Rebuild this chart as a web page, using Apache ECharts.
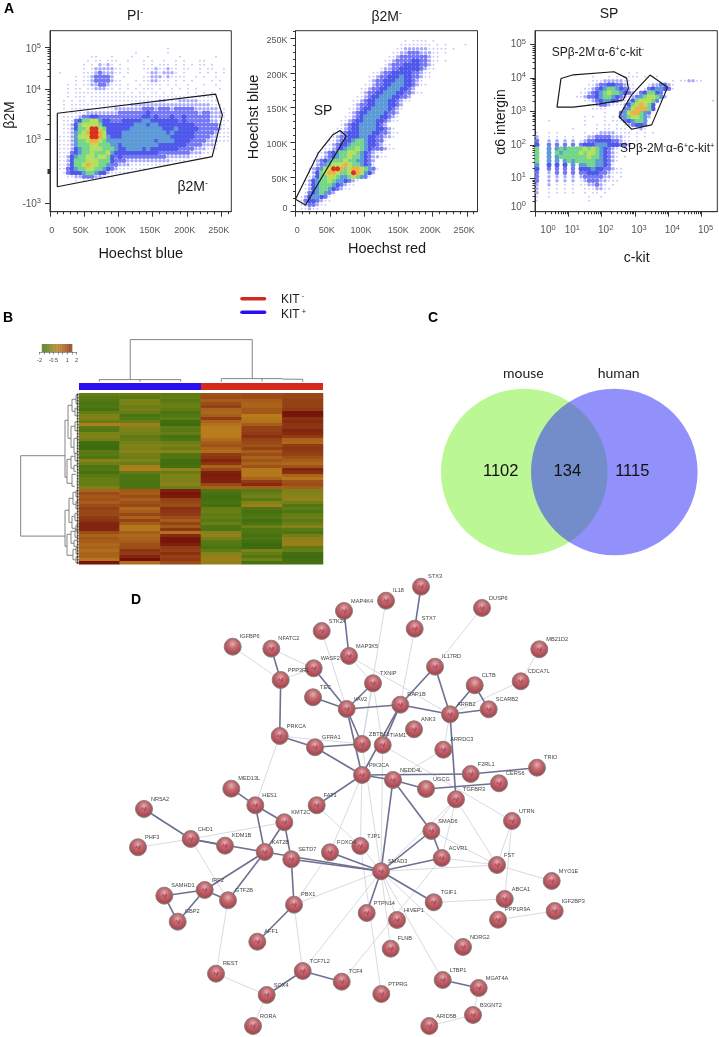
<!DOCTYPE html>
<html>
<head>
<meta charset="utf-8">
<title>Figure</title>
<script src="https://cdn.jsdelivr.net/npm/echarts@6/dist/echarts.min.js"></script>
<style>
html,body{margin:0;padding:0;background:#fff}
#chart{width:719px;height:1037px}
</style>
</head>
<body>
<div id="chart"></div>
<script>
// density levels, one string per 4px row, top to bottom ('.' = no events)
var gatePIRows = [
"","","","",
".............................1",
".....................1.......1",
"..........11...1....1...1.......1........1",
".........1.11.111..1...1.1..1..1.1...11",
"........1.1.2121.1.....1.1.111.1.1.1.11.1",
"........1.12222211.1...111211211.11..1.11..1",
"..1.....1112322211.1....12212221.1...1.1.1.1",
"......1.11233332..1....11222121111..1.1..1",
"......1.1123333211...1.1122111.1.1.1....1.1",
"....1.1.1122332111.1..1.1111.1.1..1...1..1",
"....1.11.1122211.1.1.1.111.1..1.1.1.1.....1",
"....1.1111111111111.1.11.11.1.1...1.1.1.1",
"....1.111.1111111111111111111111111111111",
"...1.1.11.11111111111111111221112222211111",
"...1.11111111111111122222222222222222222111",
"...1.111111111112222222333233323333322222211",
"...1.111122222222333333343333333333332332221",
"...11112334433333333333443433343343333332221",
"...111346677544333444445544444443433333322111",
"...11246777764444444455545544444444433333321",
"...112466799764444445555555544454444433333211",
"...112567899874444555555555554544444333332111",
"..1112577799875444555555555555444444333322111",
"..1112566788765555555555554555544443333222111",
"..1112566677666554555555555444444433332221",
"..1112456677766654455554544444443333222111",
"..11134566766675444444444443333333322211",
"..112456677677643433333333333222222111",
"..11246667776664333222222222221111",
"..1124667877665332221111111111",
"..1134566776654321111111",
"...13444566544211111",
"....112233322111",
"......1.1"
];
var sidePopRows = [
"","",
"...........................1.1111.1",
"..........................11111111.1.1....1",
".........................1122222211111.1",
"........................112233322211.1",
".......................1123333333211",
"......................11233334433211.1",
"......................1233344443321",
".....................12233444443211",
"...................112334444433211",
"..................1123344454433211",
"..................12334445544321",
".................1123344555443211",
"................11233445554432",
"................1233445554433211",
"...............11234455544332",
"..............112344555443211",
"..............1233445554432",
".............11234455554321",
".............1234455554332",
"............11234555544321",
"...........112344555443211",
"...........123445555432",
"..........112344555544321",
".........11234445554433211",
".........1233444554433221",
"........112344566544331",
".......11234456665443211",
".......112345667654333211",
".....11234566776543211",
".....112345667665432211",
"....1234566676655432",
"....1235677787665431",
"...123577998678876531",
"...12467887667987542",
"...1246677655676531",
"..12456676554321",
"..1245666543211",
"..124566543211",
"..13456532",
".12455431",
".13443211",
".1233211",
".11211"
];
var spRows = [
"","","","","","","","","","",
".......................1.1",
"..............1...1.1.1111.1.11",
"..............1112222211..........1.112211",
".............112334433211...1223321",
"............11234566543211.13455431.............1",
"...........1123456766543213466431",
"..........11233456654321235677652",
"............11234554321246777631............1..1",
".............11233211124678764",
"..............1111....35788864",
".................1...35788653",
"............1.1..1.1.35677652.................1",
"...1........1....1.111345665",
"............1..1.11.1.123443",
".........1.....1.11.111.1121",
"1..1.1......1.1122221111.1.1.1",
"2..1.1.1.1..122333322211.1.1",
"3..2.2.2.2.1233444433211.1",
"4..3.3.3.3.3444555444332.11",
"6..5.5656666767654321.1",
"6..5.6566667677654321",
"6..5.5666666676654321.1",
"6..5.5.56566666554321",
"5..4.4.4.5.556655431",
"4..3.3.3.3.44454433211",
"3..2.3.3.3.33444332111",
"3..2.2.2.2.233333221.1",
"3..2.2.2.2.1233322111",
"2..2.1.1.1.1122321.1",
"2..1.1.1.1..1112211",
"2..1.1.1.1..1.11.1",
"1..1.........1..1",
"1............1"
];

// gates, in axis units
var gatePI = [[10.7,54.4],[242,65],[252,53.4],[237,30.4],[10.7,13.8],[10.7,54.4]];
var gateSP = [[0,18],[14.6,9.7],[74,109],[65,117],[54,110.5],[33.5,85],[0,18]];
var gateKitNeg = [[.78,3.99],[1.15,4.10],[2.37,4.19],[2.75,4.00],[2.80,3.70],[2.65,3.35],[1.95,3.23],[1.15,3.13],[.66,3.13],[.78,3.99]];
var gateKitPos = [[2.52,2.85],[2.90,2.47],[3.50,2.60],[3.98,3.73],[3.45,4.09],[2.90,3.50],[2.52,2.85]];

// heatmap columns, row by row
var sampleNames = ['KIT+ 1','KIT+ 2','KIT+ 3','KIT- 1','KIT- 2','KIT- 3'];
var kit1 = [-1.0,-1.2,-1.3,-1.5,-1.3,-1.6,-1.0,-0.7,-0.6,-1.0,-0.1,-1.2,-1.3,-0.7,-0.6,-0.8,-1.8,-1.9,-1.9,-1.2,-1.2,-1.4,-0.5,-0.9,-1.4,-1.3,-1.6,-1.2,-1.0,-1.0,-1.0,-0.7,
 0.5,0.9,0.7,0.8,0.6,0.9,1.1,1.0,1.0,1.2,1.3,1.6,1.6,1.6,0.9,0.5,0.7,0.6,0.4,0.5,0.3,0.5,0.5,0.1,1.9];
var kit2 = [-1.0,-1.2,-0.7,-0.7,-0.9,-0.8,-1.0,-1.5,-1.3,-1.0,-0.3,-0.6,-0.7,-0.8,-1.1,-1.0,-0.8,-0.6,-0.7,-0.5,-0.8,-0.9,-0.7,-1.0,-0.2,-0.1,-1.1,-1.4,-1.4,-1.5,-1.5,-1.5,
 0.7,0.6,0.9,0.6,0.8,1.0,0.4,0.6,1.0,0.5,1.1,0.6,0.1,0.1,0.6,0.4,0.5,0.6,0.8,0.9,1.3,1.2,1.6,2.0,0.3];
var kit3 = [-1.1,-1.0,-1.2,-1.0,-0.9,-1.1,-1.5,-1.3,-1.1,-1.8,-1.9,-1.1,-1.2,-1.0,-1.6,-1.4,-0.9,-0.7,-1.0,-0.5,-1.3,-1.3,-1.7,-1.8,-1.6,-0.4,-1.0,-0.6,-0.7,-0.7,-0.5,-0.9,
 1.7,1.9,1.8,1.1,1.0,0.9,1.4,1.3,1.2,0.9,0.6,1.1,0.7,1.3,0.2,1.5,1.9,1.9,1.7,1.2,1.1,1.4,1.1,1.2,0.9];
var kit4 = [0.8,0.9,0.6,0.9,1.1,0.5,0.4,0.6,1.2,0.5,0.2,0.0,0.0,0.0,0.0,0.3,0.6,0.8,0.5,0.3,1.2,1.3,1.6,1.3,0.5,1.0,1.7,1.8,1.7,1.7,1.0,0.5,
 -1.4,-1.6,-1.8,-1.7,-1.5,-1.7,-1.0,-0.9,-1.1,-1.0,-1.2,-0.9,-1.4,-1.5,-0.5,-0.4,-0.8,-1.2,-1.3,-1.5,-1.1,-0.6,-0.4,-0.3,-0.4];
var kit5 = [0.9,0.9,0.6,0.5,0.5,0.7,0.7,0.0,0.1,0.2,0.6,1.1,1.1,1.2,1.4,1.1,1.0,0.8,1.1,0.6,0.9,0.5,0.8,0.5,0.8,0.1,0.1,0.1,0.5,1.2,1.5,0.6,
 -1.2,-1.0,-0.8,-1.2,-0.6,-0.3,-1.4,-1.6,-1.5,-1.3,-1.7,-1.5,-0.9,-1.3,-1.4,-1.6,-1.4,-1.7,-2.0,-1.9,-0.7,-1.0,-1.3,-0.8,-1.6];
var kit6 = [1.0,1.0,1.1,1.1,1.1,1.2,1.9,1.9,1.4,1.5,1.3,1.3,1.6,1.5,1.2,0.5,0.4,1.2,1.3,1.2,1.1,0.8,0.6,0.4,0.8,1.6,1.4,0.5,0.1,0.8,0.9,0.6,
 -0.7,-0.6,-0.5,-0.4,-0.8,-1.3,-1.1,-1.4,-1.0,-0.9,-1.2,-0.9,-0.6,-1.2,-1.4,-0.8,-0.5,-0.4,-0.3,-1.1,-1.0,-1.8,-1.9,-1.7,-1.6];
var keyValues = [-1.6,-1.35,-1.1,-.85,-.6,-.35,-.1,.15,.4,.65,.9,1.15,1.4];
var keyTicks = [-2,-0.5,1,2];
var groupNames = ['KIT +','KIT -'];

// sample dendrogram: segments x1,h1,x2,h2 in column / height units
var topTree = [
[1.26,2.7,1.26,42.7],[1.26,42.7,4.26,42.7],[4.26,42.7,4.26,3.7],
[.5,2.7,2.5,2.7],[.5,2.7,.5,.5],[1.5,2.7,1.5,.5],[2.5,2.7,2.5,.5],
[3.5,3.7,4.5,3.7],[3.5,3.7,3.5,.5],[4.5,3.7,5,3.7],[4.5,3.7,4.5,.8],[5,3.2,5.5,3],[5.5,3,5.5,.5]
];
// gene dendrogram: bracket height, row 1, child height 1, row 2, child height 2
var leftTree = [
[58.3,20.8,14,47.6,14],
[14,9,11,28,12],[11,4,7,15,8],[12,22,8,30,7],
[7,2,3,6,4],[3,.5,1,3.5,1],[4,5,1,7.5,2],[8,11,4,18,5],[4,9.5,1,12.5,2],[5,15,2,20,3],
[8,21,4,25,5],[7,27,3,31,4],[4,20,2,22.5,1],[5,24,2,26,3],
[14,39,10,51,12],[10,35,6,43,7],[12,47,8,54,6],[6,33,3,37,3],[7,41,4,45,3],[8,46,4,50,5],[6,52,3,55.5,3],
[3,32.5,1,34.5,1],[3,36,1,38.5,1],[4,40,2,42.5,1],[3,44,1,46,1],[4,45.5,2,48,1],[5,49,2,51,2],[3,51.5,1,53.5,1],[3,54.5,1,56.5,1]
];

var vennCenters = [[524.3,472],[614.3,472]];
var vennCounts = ['1102','134','1115'];
var vennCountX = [500.7,567.3,632.3];
var vennSets = ['mouse','human'];
var vennSetX = [523.3,618.7];

// network layout
var nodeNames = ['IGFBP6','NFATC2','PPP3R1','WASF2','STK24','MAP4K4','MAP3K5','TEC','VAV2','PRKCA','GFRA1','MED13L','HES1','FAT1','NR5A2',
'IL18','STX3','STX7','DUSP6','MB21D2','CDCA7L','IL17RD','CLTB','SCARB2','ARRB2','TXNIP','RAP1B','ANK3','ZBTB16','TIAM1','ARRDC3','PIK3CA','NEDD4L','F2RL1','TRIO','CERS6','UGCG','TGFBR3','UTRN',
'SMAD6','ACVR1','FST','MYO1E','SMAD3','TJP1','FOXO4','TGIF1','ABCA1','IGF2BP3','PPP1R9A','PTPN14','HIVEP1','FLNB','NDRG2','LTBP1','MGAT4A','B3GNT2','ARID5B','PTPRG','TCF4',
'KMT2C','CHD1','PHF3','KDM1B','KAT2B','SETD7','IRF2','SAMHD1','GBP2','GTF2B','PBX1','AFF1','REST','TCF7L2','SOX4','RORA'];
var nodeX = [232.7,271.3,280.7,313.7,321.7,344,349,313,346.7,279.7,315,231.3,255.3,316.7,144,
386,421,414.7,482,539.3,520.7,435,474.7,488.7,450,373,400.3,414,362,382.7,443.3,362,393,470.7,537,499,426,456,512,
431.3,441.7,497,551.7,381,360.3,330,433.7,504.7,554.7,498,366.7,397,390.7,463,442.7,478.7,473,429.3,381.3,341.7,
284.3,190.7,138,225,264.7,291.3,204.7,164.3,177.7,228,294,257.3,216,302.7,266.7,253];
var nodeY = [646.7,648.7,680,668.3,631,611,656,697.3,709,736,747.3,788.7,805.3,805.3,809,
600.7,586.7,628.7,608,649.3,681.3,666.7,685.3,709.3,714.3,683.3,704.7,729.3,744,745,749.7,775,780,774,767.7,783.3,789,799.3,821,
831,858,865,881,871.3,846,852.3,902.3,899,911,919.7,913,920,948.7,947,980,988,1015,1026,994,981.7,
822.3,839,847.3,845.7,852,859.3,890,895.7,921.7,900.3,904.7,941.7,973.7,971,995,1026];
var plainNodes = ['MED13L','CLTB','UGCG','IGFBP6','TEC','GTF2B','TRIO'];
var strongEdges = [
['NFATC2','PPP3R1'],['PPP3R1','PRKCA'],['WASF2','VAV2'],['TEC','VAV2'],['MAP4K4','MAP3K5'],['VAV2','PIK3CA'],['VAV2','TXNIP'],['VAV2','RAP1B'],['VAV2','ZBTB16'],
['RAP1B','IL17RD'],['IL17RD','ARRB2'],['RAP1B','ARRB2'],['ARRB2','CLTB'],['CLTB','SCARB2'],['ARRB2','SCARB2'],['RAP1B','PIK3CA'],['RAP1B','TIAM1'],['STX3','STX7'],
['PRKCA','GFRA1'],['GFRA1','ZBTB16'],['GFRA1','PIK3CA'],['PIK3CA','NEDD4L'],['PIK3CA','F2RL1'],['F2RL1','TRIO'],['NEDD4L','UGCG'],['UGCG','CERS6'],['NEDD4L','SMAD3'],['NEDD4L','SMAD6'],['ARRB2','TGFBR3'],
['MED13L','HES1'],['HES1','KMT2C'],['HES1','KAT2B'],['KMT2C','KAT2B'],['KMT2C','SETD7'],['FAT1','PIK3CA'],['SMAD6','SMAD3'],['SMAD6','ACVR1'],['ACVR1','SMAD3'],['SMAD3','TGIF1'],['SMAD3','PTPN14'],
['SETD7','SMAD3'],['KAT2B','SMAD3'],['FOXO4','SMAD3'],['KAT2B','IRF2'],['KAT2B','GTF2B'],['NR5A2','CHD1'],['CHD1','KDM1B'],['CHD1','KAT2B'],['SAMHD1','IRF2'],['SAMHD1','GBP2'],['IRF2','GBP2'],['IRF2','GTF2B'],
['SETD7','PBX1'],['PBX1','AFF1'],['TCF7L2','TCF4'],['TCF7L2','SOX4'],['LTBP1','MGAT4A']
];
var weakEdges = [
['IGFBP6','PPP3R1'],['NFATC2','WASF2'],['PPP3R1','WASF2'],['STK24','VAV2'],['MAP3K5','TXNIP'],['MAP3K5','ARRB2'],['IL18','ZBTB16'],['STX7','RAP1B'],['DUSP6','IL17RD'],['MB21D2','CDCA7L'],['CDCA7L','ARRB2'],
['TXNIP','TIAM1'],['TXNIP','ZBTB16'],['PRKCA','ZBTB16'],['PRKCA','HES1'],['ARRB2','ARRDC3'],['ARRDC3','NEDD4L'],['TIAM1','UTRN'],['FST','TGFBR3'],['FST','UTRN'],['TGFBR3','SMAD3'],['TGFBR3','ACVR1'],['TGFBR3','SMAD6'],
['FST','SMAD6'],['FST','ACVR1'],['FST','SMAD3'],['FST','MYO1E'],['UTRN','ABCA1'],['TGIF1','ABCA1'],['PPP1R9A','IGF2BP3'],['FOXO4','PBX1'],['PBX1','SMAD3'],['TCF7L2','SMAD3'],['PBX1','TCF7L2'],['CHD1','KMT2C'],
['PHF3','CHD1'],['CHD1','GTF2B'],['GTF2B','REST'],['REST','SOX4'],['SOX4','RORA'],['SMAD3','HIVEP1'],['SMAD3','FLNB'],['SMAD3','NDRG2'],['SMAD3','LTBP1'],['ACVR1','TCF4'],['PIK3CA','TJP1'],['TJP1','SMAD3'],
['TJP1','PTPRG'],['FAT1','TJP1'],['B3GNT2','MGAT4A'],['B3GNT2','ARID5B'],['KDM1B','KAT2B'],['ZBTB16','SMAD3'],['TIAM1','SMAD3'],['PIK3CA','FOXO4']
];

var densityColors = ['#ffffff','#c0c2fa','#a9abf8','#7478f3','#4f58ea','#5c9ad8','#74d68a','#b6e05c','#eeb040','#d8321f'];
var densitySizes = [0,1.8,3.5,4.6,5,5,5,5,5,5];
var heatRamp = ['#3a6a10','#4f7612','#7c8318','#b87c1c','#a45a1a','#8b3312','#751008'];

var labelColor = '#555', treeColor = '#777', fontName = '"Liberation Sans",Arial,sans-serif';

var chart = echarts.init(document.getElementById('chart'));

// rows -> [x, y, level], sparse levels first so the dense ones sit on top
function densityPoints(rows, xMax, yMax, plotW, plotH) {
	var pts = [];
	rows.forEach(function (row, r) {
		for (var c = 0; c < row.length; c++) {
			var lv = parseInt(row.charAt(c), 10);
			if (lv > 0) {
				pts.push([(c + .5) * 4 / plotW * xMax, yMax - (r + .5) * 4 / plotH * yMax, lv]);
			}
		}
	});
	pts.sort(function (a, b) { return a[2] - b[2]; });
	return pts;
}

function decadeMinors(lo, hi) {
	var res = [];
	for (var k = 2; k < 10; k++) {
		res.push(lo + (hi - lo) * Math.log10(k));
	}
	return res;
}

// major + minor axis pair for one plot side
function flowAxes(gridIndex, side, max, ticks, minors, labelAt, labelText, margin) {
	return [{
		gridIndex: gridIndex, type: 'value', position: side, min: 0, max: max,
		axisLine: {show: true, onZero: false, lineStyle: {color: '#333', width: 1}},
		axisTick: {show: true, length: 5, customValues: ticks, lineStyle: {color: '#333'}},
		axisLabel: {
			show: true, customValues: labelAt, margin: margin, color: labelColor, fontFamily: fontName, fontSize: 9,
			hideOverlap: false,
			formatter: function (v) {
				var i = labelAt.indexOf(v);
				return i < 0 ? '' : labelText[i];
			},
			rich: {b: {fontSize: 10, color: labelColor, fontFamily: fontName}, s: {fontSize: 7.5, color: labelColor, fontFamily: fontName, padding: [0, 0, 6, 0]}}
		},
		splitLine: {show: false}
	}, {
		gridIndex: gridIndex, type: 'value', position: side, min: 0, max: max,
		axisLine: {show: false, onZero: false},
		axisTick: {show: true, length: 2.5, customValues: minors, lineStyle: {color: '#333'}},
		axisLabel: {show: false},
		splitLine: {show: false}
	}];
}

var linearMinorsX = [10,20,30,40,60,70,80,90,110,120,130,140,160,170,180,190,210,220,230,240,260];
var piDecades = [].concat(decadeMinors(40, 67.8), decadeMinors(67.8, 91), [21.5, 22, 22.5, 23, 23.5]);
var spDecades = [].concat(decadeMinors(0, 1), decadeMinors(1, 2), decadeMinors(2, 3), decadeMinors(3, 4), decadeMinors(4, 5));

var xAxes = [].concat(
	flowAxes(0, 'bottom', 265, [0,50,100,150,200,250], linearMinorsX, [2.5,44.8,95.9,146,197,246.6], ['0','50K','100K','150K','200K','250K'], 14),
	flowAxes(1, 'bottom', 265.5, [0,50,100,150,200,250], linearMinorsX, [2.5,45.6,95.6,149.9,196.5,246], ['0','50K','100K','150K','200K','250K'], 14),
	flowAxes(2, 'bottom', 5.47, [0,1,2,3,4,5], spDecades, [.39,1.12,2.12,3.12,4.12,5.12], ['{b|10}{s|0}','{b|10}{s|1}','{b|10}{s|2}','{b|10}{s|3}','{b|10}{s|4}','{b|10}{s|5}'], 12)
);
var yAxes = [].concat(
	flowAxes(0, 'left', 100, [4.8,40,67.8,91], piDecades, [4.3,39.6,66.9,89.9], ['{b|-10}{s|3}','{b|10}{s|3}','{b|10}{s|4}','{b|10}{s|5}'], 9),
	flowAxes(1, 'left', 261, [0,50,100,150,200,250], linearMinorsX, [5,47,97,147,197,247], ['0','50K','100K','150K','200K','250K'], 8),
	flowAxes(2, 'left', 5.42, [0,1,2,3,4,5], spDecades, [.14,1,2,3,4,5], ['{b|10}{s|0}','{b|10}{s|1}','{b|10}{s|2}','{b|10}{s|3}','{b|10}{s|4}','{b|10}{s|5}'], 9)
);

// heatmap 6, colour key 7, top tree 8, left tree 9, group bar 10, page 11
var rowIndex = kit1.map(function (v, i) { return i; });
xAxes.push(
	{gridIndex: 3, type: 'category', data: sampleNames, show: false},
	{gridIndex: 4, type: 'value', min: -2, max: 2, position: 'bottom',
		axisLine: {show: true, onZero: false, lineStyle: {color: '#555', width: .6}},
		axisTick: {show: true, length: 2.5, customValues: [-2,-1.5,-1,-.5,0,.5,1,1.5,2], lineStyle: {color: '#555', width: .6}},
		axisLabel: {show: true, customValues: keyTicks, margin: 5, fontSize: 5.5, color: '#444', fontFamily: fontName, hideOverlap: false},
		splitLine: {show: false}},
	{gridIndex: 5, type: 'value', min: 0, max: 6, show: false},
	{gridIndex: 6, type: 'value', min: 0, max: 59, inverse: true, show: false},
	{gridIndex: 7, type: 'category', data: groupNames, show: false},
	{gridIndex: 8, type: 'value', min: 0, max: 719, show: false}
);
yAxes.push(
	{gridIndex: 3, type: 'category', data: rowIndex, inverse: true, show: false},
	{gridIndex: 4, type: 'value', min: 0, max: 1, show: false},
	{gridIndex: 5, type: 'value', min: 0, max: 43, show: false},
	{gridIndex: 6, type: 'value', min: 0, max: 57, inverse: true, show: false},
	{gridIndex: 7, type: 'value', min: 0, max: 1, show: false},
	{gridIndex: 8, type: 'value', min: 0, max: 1037, inverse: true, show: false}
);

var series = [];

function addDensity(rows, panel, xMax, yMax, plotW) {
	series.push({
		type: 'scatter', xAxisIndex: panel * 2, yAxisIndex: panel * 2, silent: true,
		data: densityPoints(rows, xMax, yMax, plotW, 181),
		symbol: 'circle',
		symbolSize: function (d) { return densitySizes[d[2]]; },
		itemStyle: {opacity: 1, color: function (p) { return densityColors[p.data[2]]; }}
	});
}
function addGate(points, panel) {
	series.push({
		type: 'line', xAxisIndex: panel * 2, yAxisIndex: panel * 2, silent: true, z: 4,
		data: points, symbol: 'none', lineStyle: {color: '#1a1a1a', width: 1.2}
	});
}
addDensity(gatePIRows, 0, 265, 100, 181.3);
addDensity(sidePopRows, 1, 265.5, 261, 182);
addDensity(spRows, 2, 5.47, 5.42, 182.3);
addGate(gatePI, 0);
addGate(gateSP, 1);
addGate(gateKitNeg, 2);
addGate(gateKitPos, 2);

// heatmap
var heatData = [];
[kit1, kit2, kit3, kit4, kit5, kit6].forEach(function (col, c) {
	col.forEach(function (v, r) { heatData.push([c, r, v]); });
});
var heatIndex = series.length;
series.push({type: 'heatmap', xAxisIndex: 6, yAxisIndex: 6, data: heatData, silent: true});

var keyIndex = series.length;
series.push({
	type: 'scatter', xAxisIndex: 7, yAxisIndex: 7, silent: true, symbol: 'rect', symbolSize: [2.8, 8],
	data: keyValues.map(function (v) { return [v, .5, v]; })
});

function segmentsToLine(segs) {
	var out = [];
	segs.forEach(function (s) {
		out.push([s[0], s[1]], [s[2], s[3]], ['-', '-']);
	});
	return out;
}
series.push({
	type: 'line', xAxisIndex: 8, yAxisIndex: 8, silent: true, symbol: 'none',
	data: segmentsToLine(topTree), lineStyle: {color: treeColor, width: .9}
});

var leftSegs = [];
leftTree.forEach(function (b) {
	leftSegs.push([b[0], b[1], b[0], b[3]], [b[0], b[1], b[2], b[1]], [b[0], b[3], b[4], b[3]]);
});
series.push({
	type: 'line', xAxisIndex: 9, yAxisIndex: 9, silent: true, symbol: 'none',
	data: segmentsToLine(leftSegs), lineStyle: {color: treeColor, width: .9}
});
var leafSegs = rowIndex.map(function (r) { return [0, r + .5, 2.2, r + .5]; });
leafSegs.push([1.6, 0, 1.6, 57]);
series.push({
	type: 'line', xAxisIndex: 9, yAxisIndex: 9, silent: true, symbol: 'none',
	data: segmentsToLine(leafSegs), lineStyle: {color: '#222', width: .7}
});

series.push({
	type: 'bar', xAxisIndex: 10, yAxisIndex: 10, silent: true, barWidth: '100%',
	data: [{value: 1, itemStyle: {color: '#2a10f0'}}, {value: 1, itemStyle: {color: '#d42a1e'}}]
});

// venn
series.push({
	type: 'scatter', xAxisIndex: 11, yAxisIndex: 11, silent: true, symbolSize: 166.6,
	data: [{value: vennCenters[0], itemStyle: {color: '#bcf795', opacity: 1}}, {value: vennCenters[1], itemStyle: {color: 'rgba(54,50,248,.54)', opacity: 1}}]
});

// network
var sphere = new echarts.graphic.RadialGradient(.5, .34, .68, [
	{offset: 0, color: '#e4aeb0'}, {offset: .38, color: '#c2696f'}, {offset: .8, color: '#a9484f'}, {offset: 1, color: '#96666a'}
]);
function toLinks(list, width, color) {
	return list.map(function (e) {
		return {source: e[0], target: e[1], lineStyle: {width: width, color: color, opacity: 1}};
	});
}
series.push({
	type: 'graph', coordinateSystem: 'cartesian2d', xAxisIndex: 11, yAxisIndex: 11, silent: true, z: 3,
	symbolSize: 17,
	data: nodeNames.map(function (n, i) { return {name: n, value: [nodeX[i], nodeY[i]]}; }),
	links: toLinks(weakEdges, .8, '#cfcfdc').concat(toLinks(strongEdges, 1.6, '#6f6f92')),
	itemStyle: {color: sphere, borderColor: '#7d7d7d', borderWidth: .9, opacity: 1},
	label: {show: true, position: [16, -4], formatter: '{b}', fontSize: 5.6, color: '#444', fontFamily: fontName},
	emphasis: {disabled: true}
});
series.push({
	type: 'scatter', xAxisIndex: 11, yAxisIndex: 11, silent: true, z: 4, symbol: 'path://M0 6 L3 1 L5 5 L8 0 L10 4 L6 9 L4 5 Z', symbolSize: 6,
	itemStyle: {color: '#a3245c', opacity: .55},
	data: nodeNames.filter(function (n) { return plainNodes.indexOf(n) < 0; }).map(function (n) {
		var i = nodeNames.indexOf(n);
		return [nodeX[i], nodeY[i]];
	})
});

// page text
function txt(x, y, text, size, opts) {
	opts = opts || {};
	return {
		type: 'text', x: x, y: y, rotation: opts.rot || 0, z: 20, silent: true,
		style: {
			text: text, align: opts.align || 'center', verticalAlign: 'middle', fill: opts.color || '#1a1a1a',
			fontSize: size, fontFamily: opts.family || fontName, fontWeight: opts.weight || 'normal',
			rich: opts.rich
		}
	};
}
function supRich(size) {
	return {
		a: {fontSize: size, fill: '#1a1a1a', fontFamily: fontName},
		s: {fontSize: size * .62, fill: '#1a1a1a', fontFamily: fontName, padding: [0, 0, size * .55, 0]}
	};
}
var graphics = [
	txt(9, 9.5, 'A', 14, {weight: 'bold', color: '#000'}), txt(8, 318, 'B', 14, {weight: 'bold', color: '#000'}),
	txt(433, 318, 'C', 14, {weight: 'bold', color: '#000'}), txt(136, 600, 'D', 14, {weight: 'bold', color: '#000'}),
	txt(135, 16, '{a|PI}{s|-}', 14, {rich: supRich(14)}),
	txt(386.7, 17, '{a|\u03b22M}{s|-}', 14, {rich: supRich(14)}),
	txt(609, 14, 'SP', 14),
	txt(140.7, 254, 'Hoechst blue', 14.5), txt(387, 249, 'Hoechst red', 14.5), txt(636.7, 258, 'c-kit', 14),
	txt(10, 115, '\u03b22M', 14, {rot: Math.PI / 2}),
	txt(254, 117, 'Hoechst blue', 14.5, {rot: Math.PI / 2}),
	txt(500.7, 122, '\u03b16 intergin', 14, {rot: Math.PI / 2}),
	txt(323, 111, 'SP', 14),
	txt(192.7, 187, '{a|\u03b22M}{s|-}', 14, {rich: supRich(14)}),
	txt(551.7, 52.3, '{a|SP\u03b2-2M}{s|-}{a|\u03b1-6}{s|+}{a|c-kit}{s|-}', 12, {align: 'left', rich: supRich(12)}),
	txt(620, 149, '{a|SP\u03b2-2M}{s|-}{a|\u03b1-6}{s|+}{a|c-kit}{s|+}', 12, {align: 'left', rich: supRich(12)}),
	{type: 'line', silent: true, shape: {x1: 242, y1: 298.7, x2: 264.5, y2: 298.7}, style: {stroke: '#d42a1e', lineWidth: 3.6, lineCap: 'round'}},
	{type: 'line', silent: true, shape: {x1: 242, y1: 312.3, x2: 264.5, y2: 312.3}, style: {stroke: '#2a10f0', lineWidth: 3.6, lineCap: 'round'}},
	txt(281, 299.5, '{a|KIT}{s| -}', 12, {align: 'left', rich: supRich(12)}),
	txt(281, 315, '{a|KIT}{s| +}', 12, {align: 'left', rich: supRich(12)})
];
vennCounts.forEach(function (t, i) { graphics.push(txt(vennCountX[i], 471.7, t, 16.5, {color: '#111'})); });
vennSets.forEach(function (t, i) { graphics.push(txt(vennSetX[i], 373.3, t, 14, {family: 'Lato', color: '#222'})); });

chart.setOption({
	animation: false,
	backgroundColor: '#fff',
	grid: [
		{left: 50, top: 30.7, width: 181.3, height: 181, show: true, borderColor: '#333', borderWidth: 1, backgroundColor: 'transparent'},
		{left: 295.5, top: 30.7, width: 182, height: 181, show: true, borderColor: '#333', borderWidth: 1, backgroundColor: 'transparent'},
		{left: 535, top: 30.7, width: 182.3, height: 181, show: true, borderColor: '#333', borderWidth: 1, backgroundColor: 'transparent'},
		{left: 79, top: 393.3, width: 244, height: 171},
		{left: 39.5, top: 344, width: 37, height: 8},
		{left: 79, top: 339.3, width: 244, height: 43},
		{left: 20, top: 393.3, width: 59, height: 171},
		{left: 79, top: 383, width: 244, height: 7},
		{left: 0, top: 0, width: 719, height: 1037}
	],
	xAxis: xAxes,
	yAxis: yAxes,
	visualMap: [{
		type: 'continuous', show: false, min: -2, max: 2, dimension: 2,
		seriesIndex: [heatIndex, keyIndex], inRange: {color: heatRamp}
	}],
	graphic: {elements: graphics},
	series: series
});
</script>
</body>
</html>
